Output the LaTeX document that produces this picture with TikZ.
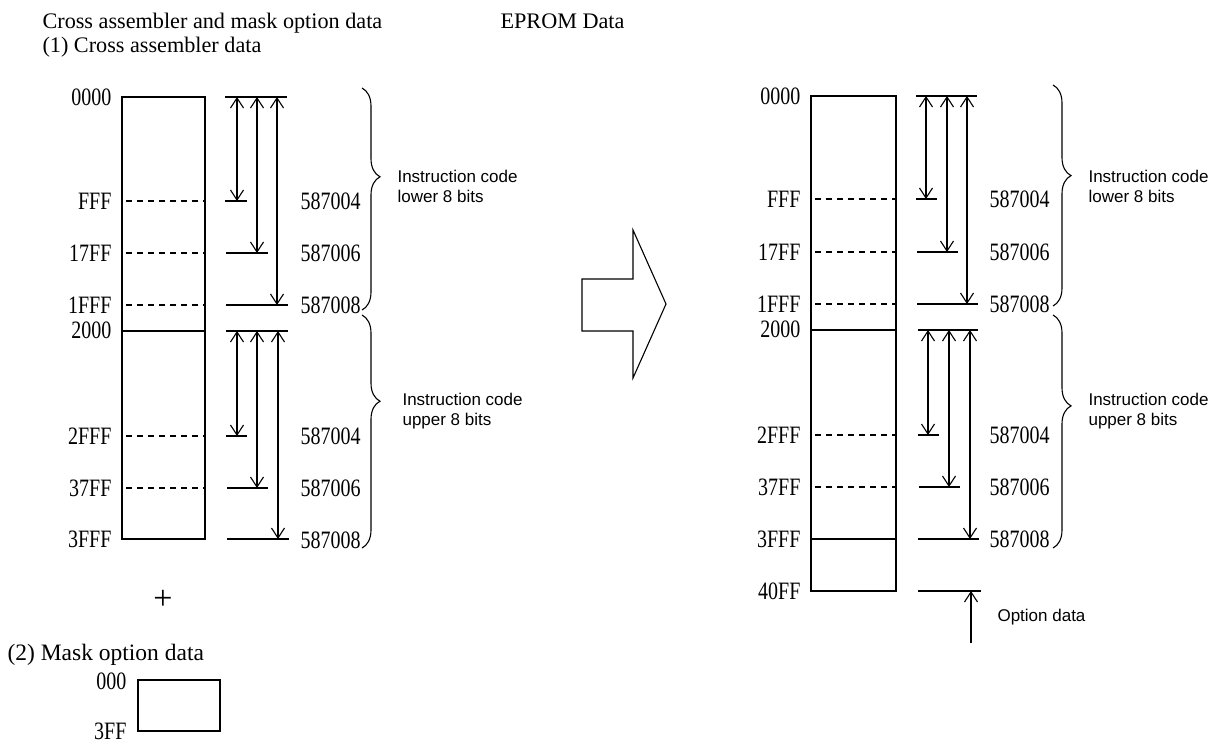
\documentclass[tikz,border=0pt]{standalone}
\usepackage{fontspec}
\setmainfont{Liberation Serif}
\setsansfont{Liberation Sans}
\newfontfamily\hexfont[FakeStretch=0.8]{Liberation Serif}
\usetikzlibrary{arrows.meta}
\usetikzlibrary{decorations.pathreplacing}

\begin{document}
\begin{tikzpicture}[x=1pt,y=-1pt,line width=1.1pt,
  addr/.style={anchor=east,inner sep=0pt,font=\hexfont\fontsize{25}{25}\selectfont},
  bytecount/.style={anchor=west,inner sep=0pt,font=\hexfont\fontsize{25}{25}\selectfont},
  heading/.style={anchor=base west,inner sep=0pt,font=\fontsize{22.2}{24}\selectfont},
  note/.style={anchor=west,inner sep=0pt,align=left,font=\sffamily\fontsize{17}{20}\selectfont},
  dimarrow/.style={{Straight Barb[length=10pt,width=13pt]}-{Straight Barb[length=10pt,width=13pt]}},
  dashsep/.style={dash pattern=on 6pt off 5pt},
  blockbrace/.style={decorate,decoration={brace,amplitude=18pt,aspect=#1}}]
	\useasboundingbox (0,0) rectangle (1225,744);
	
	% Headings
	\node[heading] (title) at (42,28) {Cross assembler and mask option data};
	\node[heading] (part1) at (42,52) {(1) Cross assembler data};
	\node[heading] (eprom) at (500,28) {EPROM Data};
	\node[heading,font=\fontsize{23.5}{24}\selectfont] (part2) at (7,660) {(2) Mask option data};
	
	% Cross assembler data
	\draw (122,97) rectangle (205,539);
	\draw (122,331) -- (205,331);
	\draw[dashsep] (126,201) -- (205,201);
	\draw[dashsep] (126,253) -- (205,253);
	\draw[dashsep] (126,305) -- (205,305);
	\draw[dashsep] (126,436) -- (205,436);
	\draw[dashsep] (126,488) -- (205,488);
	
	\node[addr] (l0000) at (112,97) {0000};
	\node[addr] (lFFF) at (112,201) {FFF};
	\node[addr] (l17FF) at (112,253) {17FF};
	\node[addr] (l1FFF) at (112,305) {1FFF};
	\node[addr] (l2000) at (112,330) {2000};
	\node[addr] (l2FFF) at (112,436) {2FFF};
	\node[addr] (l37FF) at (112,488) {37FF};
	\node[addr] (l3FFF) at (112,539) {3FFF};
	
	\draw (225,97) -- (287,97);
	\draw (225,201) -- (247,201);
	\draw (226,253) -- (268,253);
	\draw (226,305) -- (288,305);
	\foreach \x/\y [count=\i] in {237/201,257/253,277/305} {
		\coordinate (la\i) at (\x,97);
		\coordinate (lb\i) at (\x,\y);
		\draw[dimarrow] (la\i) -- (lb\i);
	}
	\draw (226,331) -- (288,331);
	\draw (226,436) -- (247,436);
	\draw (227,488) -- (268,488);
	\draw (227,539) -- (289,539);
	\foreach \x/\y [count=\i] in {237/436,257/488,278/539} {
		\coordinate (lc\i) at (\x,331);
		\coordinate (ld\i) at (\x,\y);
		\draw[dimarrow] (lc\i) -- (ld\i);
	}
	
	\node[bytecount] (l587004a) at (300,201) {587004};
	\node[bytecount] (l587006a) at (300,253) {587006};
	\node[bytecount] (l587008a) at (300,305) {587008};
	\node[bytecount] (l587004b) at (300,436) {587004};
	\node[bytecount] (l587006b) at (300,488) {587006};
	\node[bytecount] (l587008b) at (300,540) {587008};
	
	\draw[blockbrace=0.4] (362,88) -- (362,310);
	\draw[blockbrace=0.37] (362,315) -- (362,548);
	\node[note] (llower) at (397,186) {Instruction code\\lower 8 bits};
	\node[note] (lupper) at (402,411) {Instruction code\\upper 8 bits};
	
	% Mask option data
	\node[font=\fontsize{34}{34}\selectfont,inner sep=0pt] (plus) at (163,600) {+};
	\draw (138,680) rectangle (220,731);
	\node[addr] (m000) at (127,681) {000};
	\node[addr] (m3FF) at (127,731) {3FF};
	
	% Big arrow
	\draw (582,279) -- (633,279) -- (633,230) -- (666,304) -- (633,378) -- (633,331) -- (582,331) -- cycle;
	
	% EPROM data
	\draw (811,96) rectangle (896,591);
	\draw (811,330) -- (896,330);
	\draw (811,539) -- (896,539);
	\draw[dashsep] (815,199) -- (896,199);
	\draw[dashsep] (815,252) -- (896,252);
	\draw[dashsep] (815,304) -- (896,304);
	\draw[dashsep] (815,435) -- (896,435);
	\draw[dashsep] (815,487) -- (896,487);
	
	\node[addr] (r0000) at (801,96) {0000};
	\node[addr] (rFFF) at (801,199) {FFF};
	\node[addr] (r17FF) at (801,252) {17FF};
	\node[addr] (r1FFF) at (801,304) {1FFF};
	\node[addr] (r2000) at (801,329) {2000};
	\node[addr] (r2FFF) at (801,435) {2FFF};
	\node[addr] (r37FF) at (801,487) {37FF};
	\node[addr] (r3FFF) at (801,539) {3FFF};
	\node[addr] (r40FF) at (801,591) {40FF};
	
	\draw (916,96) -- (977,96);
	\draw (916,199) -- (937,199);
	\draw (917,252) -- (958,252);
	\draw (917,304) -- (978,304);
	\foreach \x/\y [count=\i] in {926/199,947/252,967/304} {
		\coordinate (ra\i) at (\x,96);
		\coordinate (rb\i) at (\x,\y);
		\draw[dimarrow] (ra\i) -- (rb\i);
	}
	\draw (918,330) -- (978,330);
	\draw (918,435) -- (939,435);
	\draw (919,487) -- (960,487);
	\draw (918,539) -- (979,539);
	\foreach \x/\y [count=\i] in {928/435,949/487,970/539} {
		\coordinate (rc\i) at (\x,330);
		\coordinate (rd\i) at (\x,\y);
		\draw[dimarrow] (rc\i) -- (rd\i);
	}
	
	\node[bytecount] (r587004a) at (989,199) {587004};
	\node[bytecount] (r587006a) at (989,252) {587006};
	\node[bytecount] (r587008a) at (989,304) {587008};
	\node[bytecount] (r587004b) at (989,435) {587004};
	\node[bytecount] (r587006b) at (989,487) {587006};
	\node[bytecount] (r587008b) at (989,539) {587008};
	
	\draw[blockbrace=0.41] (1053,85) -- (1053,306);
	\draw[blockbrace=0.39] (1053,315) -- (1053,548);
	\node[note] (rlower) at (1088,186) {Instruction code\\lower 8 bits};
	\node[note] (rupper) at (1088,411) {Instruction code\\upper 8 bits};
	
	% Option data
	\draw (918,591) -- (981,591);
	\coordinate (opt) at (971,643);
	\coordinate (optTop) at (971,591);
	\draw[-{Straight Barb[length=10pt,width=13pt]}] (opt) -- (optTop);
	\node[note] (option) at (997,617) {Option data};
	
\end{tikzpicture}
\end{document}
